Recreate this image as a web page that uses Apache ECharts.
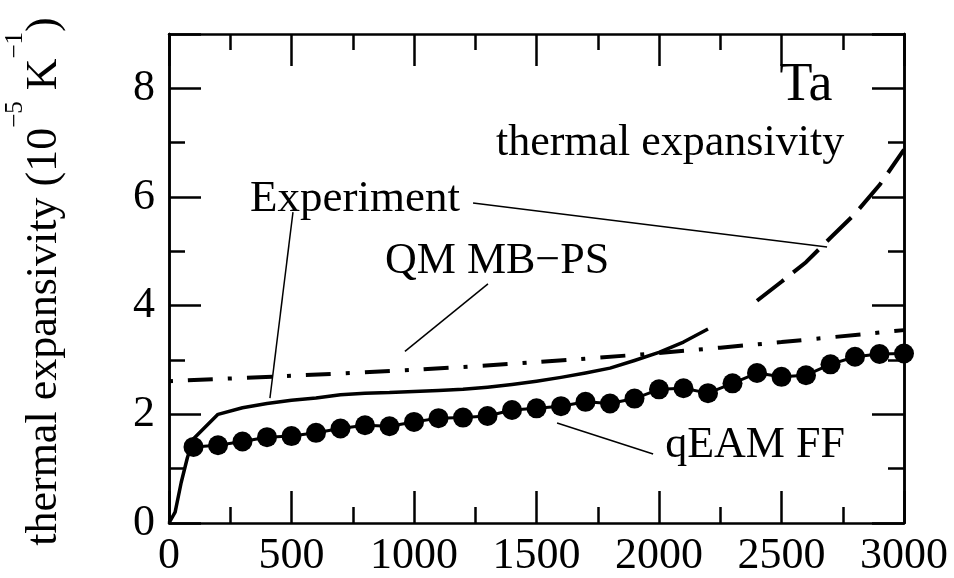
<!DOCTYPE html>
<html>
<head>
<meta charset="utf-8">
<script src="https://cdn.jsdelivr.net/npm/echarts@6/dist/echarts.min.js"></script>
<style>html,body{margin:0;padding:0;background:#fff}#c{width:954px;height:578px}</style>
</head>
<body>
<div id="c"></div>
<script>
// ---- data (temperature in K, thermal expansivity in 1e-5 K^-1) ----
const expT = [0, 25, 50, 75, 100, 200, 300, 400, 500, 600, 700, 800, 900, 1000, 1100, 1200, 1300, 1400, 1500, 1600, 1700, 1800, 1900, 2000, 2100, 2200];
const expAlpha = [0, 0.2, 0.75, 1.2, 1.55, 2.0, 2.12, 2.2, 2.26, 2.3, 2.36, 2.39, 2.4, 2.42, 2.44, 2.46, 2.5, 2.55, 2.61, 2.68, 2.76, 2.85, 2.99, 3.14, 3.33, 3.57];
const expExtT = [2400, 2500, 2600, 2700, 2800, 2900, 3000];
const expExtAlpha = [4.09, 4.44, 4.80, 5.25, 5.69, 6.22, 6.87];
const qmT = [0, 500, 1000, 1500, 2000, 2500, 3000];
const qmAlpha = [2.61, 2.71, 2.82, 2.96, 3.13, 3.33, 3.55];
const qeamT = [100, 200, 300, 400, 500, 600, 700, 800, 900, 1000, 1100, 1200, 1300, 1400, 1500, 1600, 1700, 1800, 1900, 2000, 2100, 2200, 2300, 2400, 2500, 2600, 2700, 2800, 2900, 3000];
const qeamAlpha = [1.40, 1.43, 1.50, 1.58, 1.60, 1.66, 1.74, 1.80, 1.78, 1.86, 1.93, 1.94, 1.97, 2.08, 2.11, 2.15, 2.23, 2.20, 2.29, 2.46, 2.48, 2.39, 2.57, 2.76, 2.69, 2.72, 2.92, 3.06, 3.11, 3.12];

// annotation leader lines (data coordinates)
const leaderExpA = [[506, 5.72], [412, 2.30]];
const leaderExpB = [[1241, 5.89], [2686, 5.08]];
const leaderQM = [[1302, 4.40], [963, 3.16]];
const leaderQEAM = [[1584, 1.84], [1976, 1.27]];

// annotation texts (data coordinates of text centre)
const annoText = ['Ta', 'thermal expansivity', 'Experiment', 'QM MB\u2212PS', 'qEAM FF'];
const annoX = [2600, 2045, 759, 1339, 2392];
const annoY = [8.04, 6.99, 5.96, 4.82, 1.42];
const annoSize = [54, 44, 45, 44, 44];

// y-axis title pieces: [text, isSuperscript]
const yTitleParts = [['thermal expansivity (10', false], ['\u22125', true], [' K', false], ['\u22121', true], [')', false]];

const xMin = 0, xMax = 3000, xStep = 500;
const yMin = 0, yMax = 9, yStep = 2;

const FONT = '"Liberation Serif", "Times New Roman", serif';
const zip = (a, b) => a.map((v, i) => [v, b[i]]);

const chart = echarts.init(document.getElementById('c'), null, {renderer: 'canvas'});

const lineW = 2.5;
function xAxisCfg(pos, showLabel) {
  return {
    type: 'value', position: pos, min: xMin, max: xMax, interval: xStep,
    axisLine: {show: true, onZero: false, lineStyle: {color: '#000', width: lineW}},
    axisTick: {show: true, inside: true, length: 32, lineStyle: {color: '#000', width: lineW}},
    minorTick: {show: true, splitNumber: 2, length: 16, lineStyle: {color: '#000', width: lineW}},
    axisLabel: {show: showLabel, margin: 11, fontSize: 44, fontFamily: FONT, color: '#000',
      formatter: v => String(v)},
    splitLine: {show: false}, minorSplitLine: {show: false}
  };
}
function yAxisCfg(pos, step, len, showLabel) {
  return {
    type: 'value', position: pos, min: yMin, max: yMax, interval: step,
    axisLine: {show: true, onZero: false, lineStyle: {color: '#000', width: lineW}},
    axisTick: {show: true, inside: true, length: len, lineStyle: {color: '#000', width: lineW}},
    axisLabel: {show: showLabel, margin: 14, fontSize: 44, fontFamily: FONT, color: '#000',
      formatter: v => (v === yMax ? '' : String(v))},
    splitLine: {show: false}
  };
}

function leader(data) {
  return {type: 'line', data: data, symbol: 'none', silent: true, z: 5,
    lineStyle: {color: '#000', width: 1.5}, clip: false};
}

chart.setOption({
  animation: false,
  backgroundColor: '#fff',
  grid: {left: 169, right: 50, top: 34, bottom: 55, containLabel: false},
  xAxis: [xAxisCfg('bottom', true), xAxisCfg('top', false)],
  yAxis: [yAxisCfg('left', yStep, 32, true), yAxisCfg('left', 1, 16, false),
          yAxisCfg('right', yStep, 32, false), yAxisCfg('right', 1, 16, false)],
  series: [
    {name: 'Experiment', type: 'line', data: zip(expT, expAlpha), symbol: 'none',
      lineStyle: {color: '#000', width: 3.5, join: 'round'}},
    {name: 'Experiment (extrapolated)', type: 'line', data: zip(expExtT, expExtAlpha), symbol: 'none',
      lineStyle: {color: '#000', width: 4, type: [34, 12], cap: 'butt'}},
    {name: 'QM MB-PS', type: 'line', data: zip(qmT, qmAlpha), symbol: 'none', smooth: 0.3,
      lineStyle: {color: '#000', width: 4, type: [4, 15, 25, 15], cap: 'butt'}},
    {name: 'qEAM FF', type: 'line', data: zip(qeamT, qeamAlpha), symbol: 'circle', symbolSize: 20,
      clip: false, z: 4,
      itemStyle: {color: '#000'}, lineStyle: {color: '#000', width: 3}},
    leader(leaderExpA), leader(leaderExpB), leader(leaderQM), leader(leaderQEAM)
  ]
});

const graphics = annoText.map((t, i) => {
  const p = chart.convertToPixel({gridIndex: 0}, [annoX[i], annoY[i]]);
  return {type: 'text', x: p[0], y: p[1], z: 10,
    style: {text: t, fontSize: annoSize[i], fontFamily: FONT, fill: '#000', align: 'center', verticalAlign: 'middle'}};
});

// rotated y-axis title, built from measured pieces so superscripts sit high
const MAIN_FS = 44, SUP_FS = 25;
const MAIN_MID_X = 44, SUP_MID_X = 15;
const ctx = document.createElement('canvas').getContext('2d');
const widths = yTitleParts.map(([t, sup]) => {
  ctx.font = (sup ? SUP_FS : MAIN_FS) + 'px ' + FONT;
  return ctx.measureText(t).width;
});
const total = widths.reduce((a, b) => a + b, 0);
let cursor = 281.5 + total / 2;
yTitleParts.forEach(([t, sup], i) => {
  graphics.push({
    type: 'text', x: sup ? SUP_MID_X : MAIN_MID_X, y: cursor, rotation: Math.PI / 2, z: 10,
    style: {text: t, fontSize: sup ? SUP_FS : MAIN_FS, fontFamily: FONT, fill: '#000',
      align: 'left', verticalAlign: 'middle'}
  });
  cursor -= widths[i];
});
chart.setOption({graphic: graphics});
</script>
</body>
</html>
